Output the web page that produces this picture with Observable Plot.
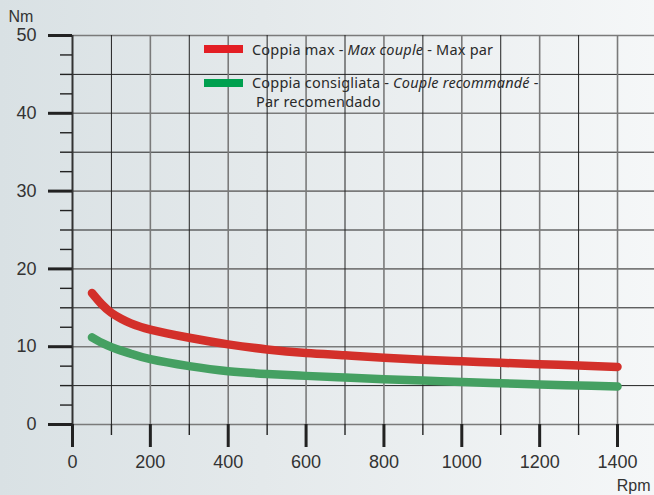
<!DOCTYPE html>
<html><head><meta charset="utf-8">
<script src="https://cdn.jsdelivr.net/npm/d3@7"></script>
<script src="https://cdn.jsdelivr.net/npm/@observablehq/plot@0.6"></script>
<style>
html,body{margin:0;padding:0;}
body{width:654px;height:495px;overflow:hidden;position:relative;
 background:linear-gradient(to right,#d9e1e4 0%,#e4e9eb 40%,#f5f7f8 100%);
 font-family:"Liberation Sans",Arial,sans-serif;}
#chart{position:absolute;left:0;top:0;}
.lg{position:absolute;font-family:"Noto Sans",sans-serif;font-size:14.5px;letter-spacing:0.2px;color:#2a2a2a;line-height:16px;white-space:nowrap;}
.sw{position:absolute;width:39px;height:8px;}
</style></head><body>
<div id="chart"></div>
<div id="legend"></div>
<script>
// ---- data ----
const rpm   = [50, 75, 100, 125, 150, 200, 300, 400, 500, 600, 700, 800, 900, 1000, 1100, 1200, 1300, 1400];
const maxCouple = [16.9, 15.45, 14.35, 13.6, 13.0, 12.2, 11.15, 10.3, 9.65, 9.2, 8.9, 8.58, 8.32, 8.12, 7.93, 7.75, 7.58, 7.4];
const recCouple = [11.2, 10.5, 9.95, 9.5, 9.1, 8.4, 7.5, 6.85, 6.5, 6.25, 6.04, 5.83, 5.66, 5.45, 5.3, 5.14, 5.01, 4.88];
const xMajor = [0, 200, 400, 600, 800, 1000, 1200, 1400];
const xMinor = [100, 300, 500, 700, 900, 1100, 1300];
const yMajor = [0, 10, 20, 30, 40, 50];
const yMinor = [2.5, 5, 7.5, 12.5, 15, 17.5, 22.5, 25, 27.5, 32.5, 35, 37.5, 42.5, 45, 47.5];
const yGridMajor = [0, 10, 20, 30, 40, 50];
const yGridMinor = [5, 15, 25, 35, 45];
const seriesNames = ["Coppia max", "Coppia consigliata"];
const seriesColors = ["#d3302a", "#45a062"];
const legendColors = ["#e31e24", "#00a04f"];
const legendLines = [
  ['Coppia max - <i>Max couple</i> - Max par'],
  ['Coppia consigliata - <i>Couple recommandé</i> -', '&nbsp;Par recomendado']
];
const xLabel = "Rpm", yLabel = "Nm";

const data = [];
rpm.forEach((r, i) => {
  data.push({rpm: r, torque: maxCouple[i], s: seriesNames[0]});
  data.push({rpm: r, torque: recCouple[i], s: seriesNames[1]});
});

const xMax = 1495;
const chart = Plot.plot({
  width: 654, height: 495,
  marginLeft: 72, marginRight: 0, marginTop: 35, marginBottom: 71,
  style: {background: "transparent", fontFamily: "Liberation Sans, Arial, sans-serif", color: "#2b2b2b"},
  x: {domain: [0, xMax], label: null},
  y: {domain: [0, 50], label: null},
  color: {domain: seriesNames, range: seriesColors},
  marks: [
    Plot.ruleY(yGridMinor, {x1: 0, x2: xMax, stroke: "#222", strokeWidth: 1}),
    Plot.ruleY(yGridMajor, {x1: 0, x2: xMax, stroke: "#7a7a7a", strokeWidth: 1.6}),
    Plot.ruleX(xMinor, {y1: 0, y2: 50, stroke: "#222", strokeWidth: 1}),
    Plot.ruleX(xMajor.filter(d => d > 0), {y1: 0, y2: 50, stroke: "#7a7a7a", strokeWidth: 1.6}),
    Plot.ruleX([0], {y1: 0, y2: 50, stroke: "#333", strokeWidth: 2}),
    Plot.axisY({ticks: yMajor, tickSize: 24, tickPadding: 12, fontSize: 18, stroke: "#222", strokeWidth: 3, fill: "#333", tickFormat: d => String(d)}),
    Plot.axisY({ticks: yMinor, tickSize: 12, text: null, stroke: "#222", strokeWidth: 1.4}),
    Plot.axisX({ticks: xMajor, tickSize: 23, tickPadding: 8, fontSize: 18, stroke: "#222", strokeWidth: 3, fill: "#333", tickFormat: d => String(d)}),
    Plot.axisX({ticks: xMinor, tickSize: 11, text: null, stroke: "#222", strokeWidth: 1.4}),
    Plot.line(data, {x: "rpm", y: "torque", z: "s", stroke: "s", strokeWidth: 8.5, curve: "natural", strokeLinecap: "round"}),
    Plot.text([yLabel], {frameAnchor: "top-left", textAnchor: "start", lineAnchor: "middle", dx: -64, dy: -19, fontSize: 16, fill: "#333"}),
    Plot.text([xLabel], {frameAnchor: "bottom-right", textAnchor: "end", lineAnchor: "middle", dx: -4, dy: 61, fontSize: 16, fill: "#333"})
  ]
});
document.getElementById("chart").appendChild(chart);

const lg = document.getElementById("legend");
const swTops = [45, 79];
const txtTops = [[41], [74, 93]];
legendLines.forEach((lines, i) => {
  const sw = document.createElement("div");
  sw.className = "sw";
  sw.style.left = "204px"; sw.style.top = swTops[i] + "px";
  sw.style.background = legendColors[i];
  lg.appendChild(sw);
  lines.forEach((h, j) => {
    const t = document.createElement("div");
    t.className = "lg";
    t.style.left = "252px"; t.style.top = txtTops[i][j] + "px";
    t.innerHTML = h;
    lg.appendChild(t);
  });
});
</script>
</body></html>
